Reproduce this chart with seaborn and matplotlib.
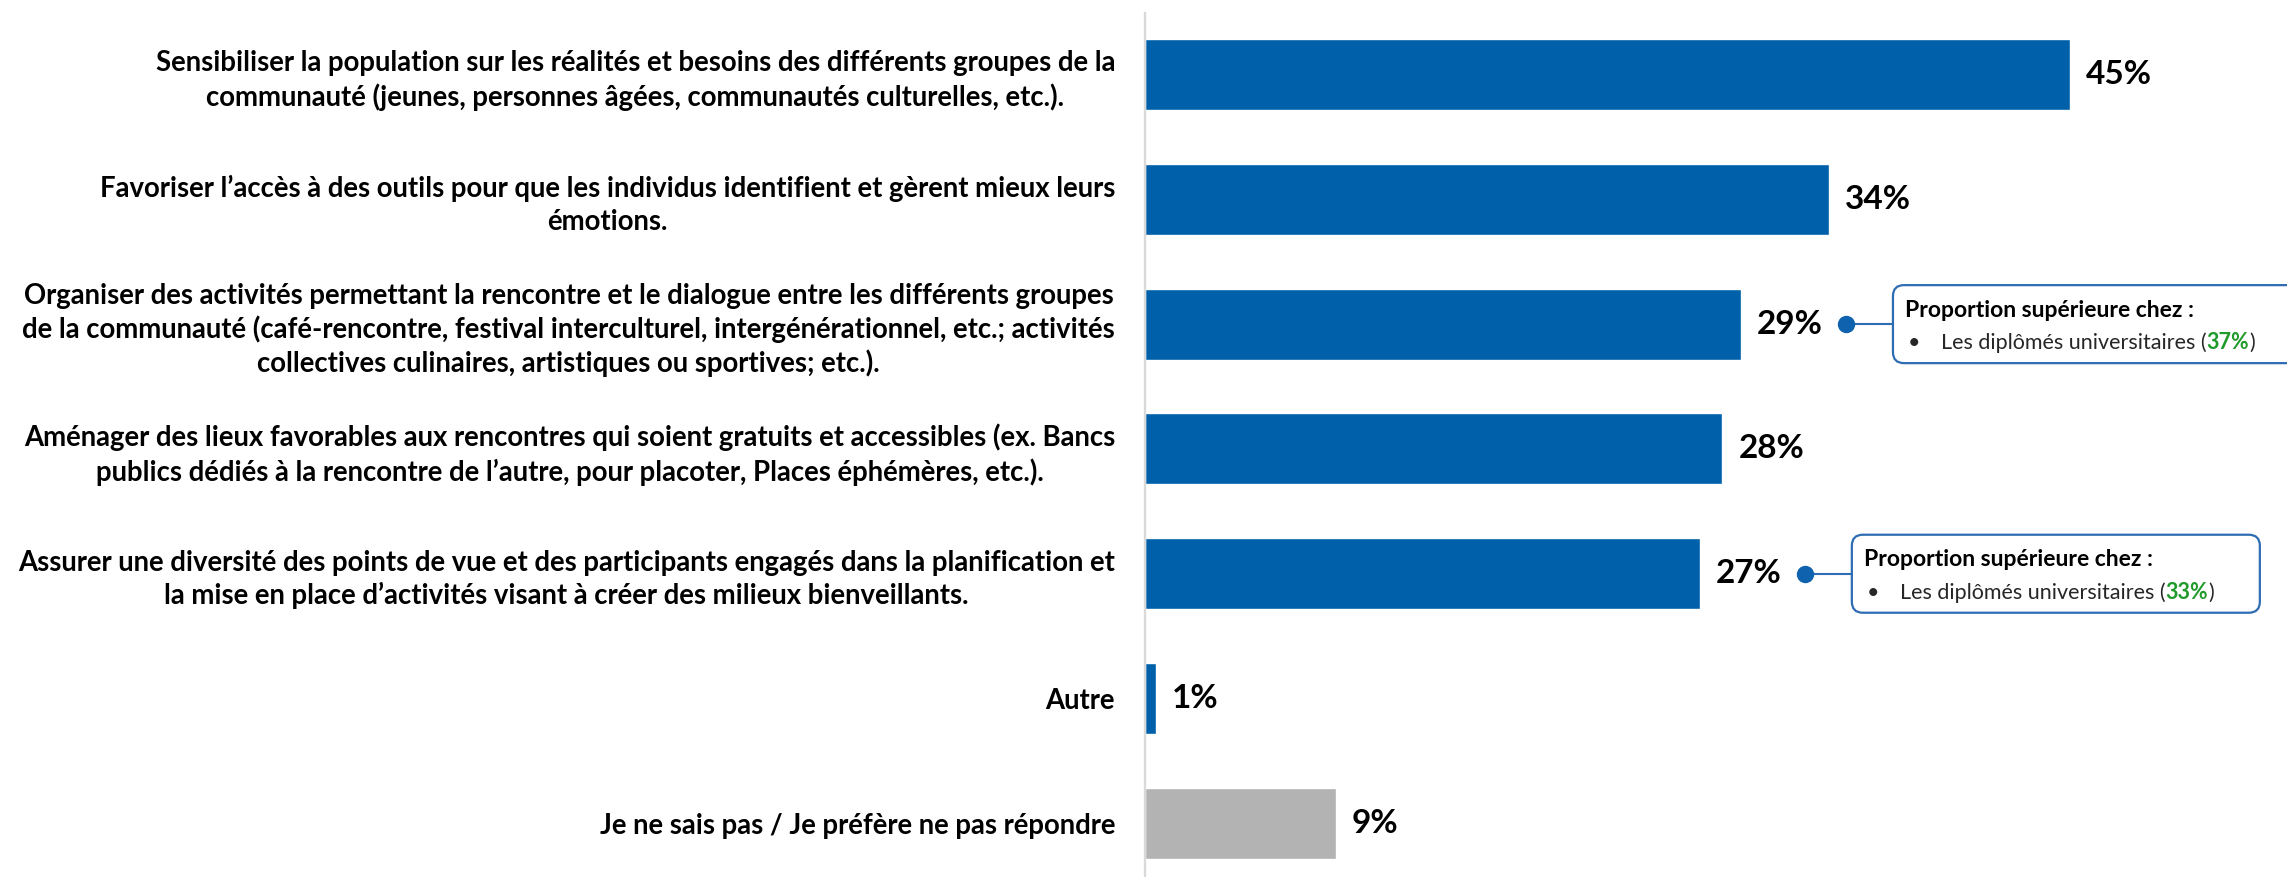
import matplotlib
matplotlib.use('Agg')
import matplotlib.pyplot as plt
import seaborn as sns
from matplotlib.patches import FancyBboxPatch
from matplotlib.lines import Line2D
from matplotlib.transforms import IdentityTransform

# Data
labels = [
    "Sensibiliser la population sur les réalités et besoins des différents groupes de la\n"
    "communauté (jeunes, personnes âgées, communautés culturelles, etc.).",
    "Favoriser l’accès à des outils pour que les individus identifient et gèrent mieux leurs\n"
    "émotions.",
    "Organiser des activités permettant la rencontre et le dialogue entre les différents groupes\n"
    "de la communauté (café-rencontre, festival interculturel, intergénérationnel, etc.; activités\n"
    "collectives culinaires, artistiques ou sportives; etc.).",
    "Aménager des lieux favorables aux rencontres qui soient gratuits et accessibles (ex. Bancs\n"
    "publics dédiés à la rencontre de l’autre, pour placoter, Places éphémères, etc.).",
    "Assurer une diversité des points de vue et des participants engagés dans la planification et\n"
    "la mise en place d’activités visant à créer des milieux bienveillants.",
    "Autre",
    "Je ne sais pas / Je préfère ne pas répondre",
]
# bar lengths as measured, printed labels as shown (rounded)
values = [45.0, 33.3, 29.0, 28.1, 27.0, 0.55, 9.3]
value_labels = ['45%', '34%', '29%', '28%', '27%', '1%', '9%']
bar_colors = ['#0060AA'] * 6 + ['#B3B3B3']

callout_rows = [2, 4]
callout_values = ['37%', '33%']
callout_title = 'Proportion supérieure chez :'
callout_group = 'Les diplômés universitaires'

sns.set_style('white')
plt.rcParams['font.family'] = ['Lato', 'DejaVu Sans']

W, H = 2287, 877
fig = plt.figure(figsize=(W / 100, H / 100), dpi=100)
ax = fig.add_axes([1145 / W, 0, 1 - 1145 / W, 1 - 13 / H])

sns.barplot(x=values, y=labels, hue=labels, palette=bar_colors, orient='h',
            width=0.57, saturation=1, legend=False, ax=ax)

ax.set_xlim(0, (W - 1145) / 20.55)
ax.set_ylim(6.43, -0.493)
ax.set_xticks([])
ax.set_xlabel('')
ax.set_ylabel('')
for s in ['top', 'right', 'bottom']:
    ax.spines[s].set_visible(False)
ax.spines['left'].set_color('#D9D9D9')
ax.spines['left'].set_linewidth(1.7)

ax.tick_params(axis='y', length=0, pad=21.6, labelsize=19.8, labelcolor='black')
for t in ax.get_yticklabels():
    t.set_fontweight('bold')
    t.set_multialignment('center')
    t.set_linespacing(1.3)

# value labels
for cont, lab in zip(ax.containers, value_labels):
    ax.bar_label(cont, labels=[lab], padding=11.5, fontsize=24,
                 fontweight='bold', color='black')

# callouts
blue = '#2E6DB4'
fs = 15.5
fig.canvas.draw()
renderer = fig.canvas.get_renderer()
for r, cv in zip(callout_rows, callout_values):
    x0, y0 = ax.transData.transform((values[r], r))
    dot_x = x0 + 105
    box_l = dot_x + 47
    box_w, box_h = 408, 78
    top = y0 + box_h / 2
    fig.add_artist(Line2D([dot_x, box_l], [y0, y0], color=blue, lw=1.5,
                          transform=IdentityTransform()))
    fig.add_artist(Line2D([dot_x], [y0], marker='o', markersize=11.5,
                          color='#0E62AE', transform=IdentityTransform()))
    fig.add_artist(FancyBboxPatch((box_l, y0 - box_h / 2), box_w, box_h,
                                  boxstyle='round,pad=0,rounding_size=11',
                                  fc='white', ec=blue, lw=1.6,
                                  transform=IdentityTransform()))
    fig.text(box_l + 12, top - 25, callout_title, fontsize=16.5, fontweight='bold',
             va='center', color='black', transform=IdentityTransform())
    base = top - 64
    fig.text(box_l + 15, base, '•', fontsize=fs, va='baseline',
             color='#262626', transform=IdentityTransform())
    x = box_l + 48
    for txt, w, c in [(callout_group + ' (', 'normal', '#262626'),
                      (cv, 'bold', '#1F9A2B'), (')', 'normal', '#262626')]:
        t = fig.text(x, base, txt, fontsize=fs, fontweight=w, va='baseline',
                     color=c, transform=IdentityTransform())
        x = t.get_window_extent(renderer).x1

fig.savefig('out.png', dpi=100)
